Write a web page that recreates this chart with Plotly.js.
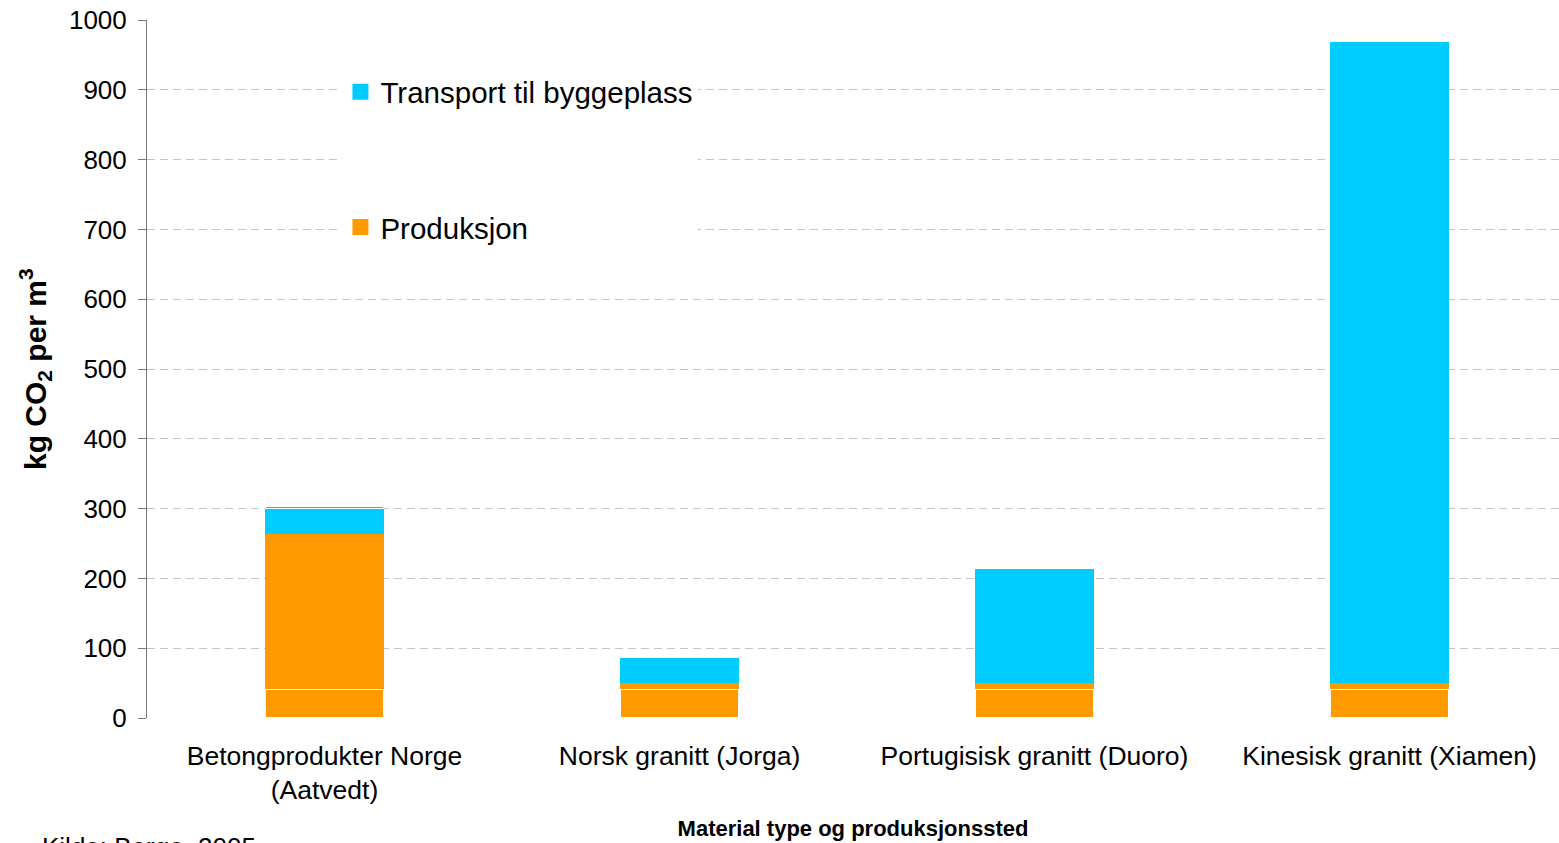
<!DOCTYPE html>
<html>
<head>
<meta charset="utf-8">
<script src="https://cdn.plot.ly/plotly-3.0.1.min.js"></script>
<style>html,body{margin:0;padding:0;background:#fff;}#chart{width:1559px;height:843px;}</style>
</head>
<body>
<div id="chart"></div>
<script>
const categories = ["Betongprodukter Norge<br>(Aatvedt)", "Norsk granitt (Jorga)", "Portugisisk granitt (Duoro)", "Kinesisk granitt (Xiamen)"];
const produksjonA = [42, 42, 42, 42];
const produksjonB = [221, 8, 8, 8];
const transportA = [37, 37, 164, 919];
const transportB = [3, 0, 0, 0];
const seriesNames = ["Produksjon", "Transport til byggeplass"];
const yTicks = [0, 100, 200, 300, 400, 500, 600, 700, 800, 900, 1000];

const ORANGE = "#FF9900", CYAN = "#00CCFF";
const font = "Liberation Sans, Arial, sans-serif";
const bw = 0.335;

const traces = [
  {type: "bar", x: categories, y: produksjonA, name: seriesNames[0], showlegend: false,
   marker: {color: ORANGE, line: {color: "#ffffff", width: 2.2}}, width: bw},
  {type: "bar", x: categories, y: produksjonB, name: seriesNames[0], showlegend: false,
   marker: {color: ORANGE, line: {width: 0}}, width: bw},
  {type: "bar", x: categories, y: transportA, name: seriesNames[1], showlegend: false,
   marker: {color: CYAN, line: {width: 0}}, width: bw},
  {type: "bar", x: categories, y: transportB, name: seriesNames[1], showlegend: false,
   marker: {color: CYAN, line: {color: "#ffffff", width: 1}}, width: bw},
  // legend-only entries (larger square swatches)
  {type: "scatter", mode: "markers", x: [null], y: [null], name: seriesNames[1], legendgroup: "t",
   marker: {symbol: "square", size: 16, color: CYAN}},
  {type: "scatter", mode: "markers", x: [null], y: [null], name: seriesNames[0], legendgroup: "p",
   marker: {symbol: "square", size: 16, color: ORANGE}}
];

const layout = {
  width: 1559, height: 843,
  margin: {l: 147, r: 0, t: 20, b: 125},
  barmode: "stack",
  paper_bgcolor: "#ffffff", plot_bgcolor: "#ffffff",
  font: {family: font, color: "#000000", size: 26},
  showlegend: true,
  legend: {
    x: 0.137, y: 0.934, xanchor: "left", yanchor: "top",
    bgcolor: "#ffffff", borderwidth: 0,
    font: {family: font, size: 29.5, color: "#000000"},
    traceorder: "grouped", tracegroupgap: 94,
    itemsizing: "trace", itemwidth: 30
  },
  xaxis: {
    type: "category",
    range: [-0.5, 3.4775],
    showgrid: false, showline: false, zeroline: false,
    ticks: "", tickfont: {family: font, size: 26.5, color: "#000000"},
    ticklabelstandoff: 19,
    automargin: false,
    title: {text: "<b>Material type og produksjonssted</b>", font: {family: font, size: 22, color: "#000000"}, standoff: 16}
  },
  yaxis: {
    range: [0, 1000],
    tickvals: yTicks, ticktext: yTicks.map(String),
    showgrid: true, gridcolor: "#c4c4c4", griddash: "8px,5px", gridwidth: 1,
    zeroline: false,
    showline: true, linecolor: "#7a7a7a", linewidth: 1,
    ticks: "outside", ticklen: 8, tickcolor: "#7a7a7a",
    tickfont: {family: font, size: 26, color: "#000000"},
    ticklabelstandoff: 6,
    automargin: false
  },
  annotations: [
    {text: "<b>kg CO<sub>2</sub> per m<sup>3</sup></b>", xref: "paper", yref: "paper", x: -0.0793, y: 0.5,
     xanchor: "center", yanchor: "middle", textangle: -90, showarrow: false,
     font: {family: font, size: 30, color: "#000000"}},
    {text: "Kilde: Berge, 2005", xref: "paper", yref: "paper", x: -0.076, y: -0.16,
     xanchor: "left", yanchor: "top", showarrow: false, font: {family: font, size: 26, color: "#000000"}}
  ]
};

Plotly.newPlot("chart", traces, layout, {displayModeBar: false, staticPlot: true});
</script>
</body>
</html>
